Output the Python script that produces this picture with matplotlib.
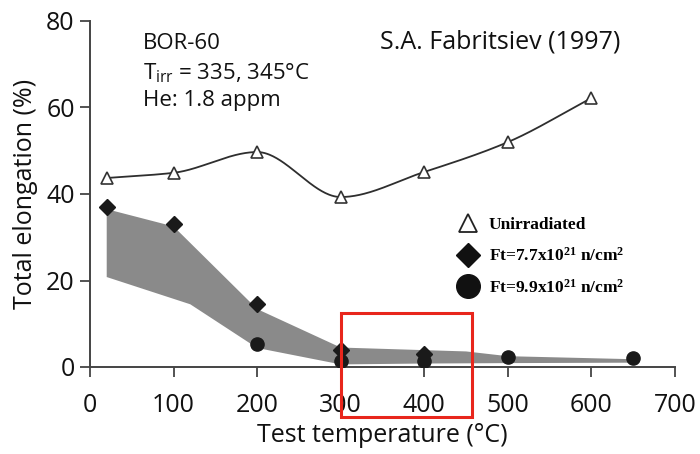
import numpy as np
import matplotlib
matplotlib.use("Agg")
import matplotlib.pyplot as plt
from matplotlib.lines import Line2D
from matplotlib.patches import Rectangle

# ---- data ----
unirr_x = [20, 100, 200, 300, 400, 500, 600]
unirr_y = [43.7, 44.9, 49.7, 39.3, 45.1, 52.0, 62.2]

ft77_x = [20, 100, 200, 300, 400]
ft77_y = [37.0, 33.1, 14.6, 3.9, 3.0]

ft99_x = [200, 300, 400, 500, 650]
ft99_y = [5.3, 1.4, 1.4, 2.3, 2.1]

band_upper_x = [20, 100, 200, 300, 400, 450, 500, 650]
band_upper_y = [36.5, 32.5, 13.4, 4.5, 3.9, 3.6, 2.5, 1.8]
band_lower_x = [20, 120, 200, 300, 400, 500, 650]
band_lower_y = [20.8, 14.5, 4.4, 0.6, 0.8, 0.9, 1.0]

xticks = [0, 100, 200, 300, 400, 500, 600, 700]
yticks = [0, 20, 40, 60, 80]

legend_labels = ["Unirradiated",
                 r"Ft=7.7x10$^{21}$ n/cm$^{2}$",
                 r"Ft=9.9x10$^{21}$ n/cm$^{2}$"]


def pchip(x, y, n=400):
    x = np.asarray(x, float); y = np.asarray(y, float)
    h = np.diff(x); dl = np.diff(y) / h
    k = len(x); d = np.zeros(k)
    for i in range(1, k - 1):
        if dl[i - 1] * dl[i] > 0:
            w1 = 2 * h[i] + h[i - 1]; w2 = h[i] + 2 * h[i - 1]
            d[i] = (w1 + w2) / (w1 / dl[i - 1] + w2 / dl[i])
    d[0] = dl[0]; d[-1] = dl[-1]
    xs = np.linspace(x[0], x[-1], n); ys = np.empty_like(xs)
    for j, xv in enumerate(xs):
        i = min(np.searchsorted(x, xv, side="right") - 1, k - 2)
        t = (xv - x[i]) / h[i]
        h00 = 2 * t**3 - 3 * t**2 + 1; h10 = t**3 - 2 * t**2 + t
        h01 = -2 * t**3 + 3 * t**2; h11 = t**3 - t**2
        ys[j] = h00 * y[i] + h10 * h[i] * d[i] + h01 * y[i + 1] + h11 * h[i] * d[i + 1]
    return xs, ys


plt.rcParams['font.family'] = ['Open Sans', 'DejaVu Sans']
plt.rcParams['mathtext.fontset'] = 'custom'
plt.rcParams['mathtext.rm'] = 'Liberation Serif:bold'
plt.rcParams['mathtext.it'] = 'Liberation Serif:bold'
plt.rcParams['mathtext.bf'] = 'Liberation Serif:bold'

fig = plt.figure(figsize=(7.0, 4.54), dpi=100)
ax = fig.add_axes([90 / 700, 1 - 367 / 454, (675 - 90) / 700, (367 - 21) / 454])
ax.set_xlim(0, 700)
ax.set_ylim(0, 80)

# gray band
poly_x = list(band_upper_x) + list(band_lower_x[::-1])
poly_y = list(band_upper_y) + list(band_lower_y[::-1])
ax.fill(poly_x, poly_y, color='#8a8a8a', lw=0, zorder=1)

# unirradiated smooth curve
sx, sy = pchip(unirr_x, unirr_y)
ax.plot(sx, sy, color='#2e2e2e', lw=1.3, zorder=2)
ax.plot(unirr_x, unirr_y, ls='none', marker='^', ms=8, mfc='white',
        mec='#333333', mew=1.2, zorder=3)
ax.plot(ft77_x, ft77_y, ls='none', marker='D', ms=8, color='#1a1a1a', zorder=4)
ax.plot(ft99_x, ft99_y, ls='none', marker='o', ms=9.5, color='#1a1a1a', zorder=4)

for s in ['top', 'right']:
    ax.spines[s].set_visible(False)
for s in ['left', 'bottom']:
    ax.spines[s].set_color('#444444')
    ax.spines[s].set_linewidth(1.4)

ax.set_xticks(xticks)
ax.set_yticks(yticks)
ax.tick_params(axis='x', direction='out', length=7, width=1.3, color='#444444',
               pad=12, labelsize=18, labelcolor='#111111')
ax.tick_params(axis='y', direction='out', length=7, width=1.3, color='#444444',
               pad=4, labelsize=18, labelcolor='#111111')
ax.set_xlabel('Test temperature (°C)', fontsize=18, color='#111111', labelpad=3)
ax.set_ylabel('Total elongation (%)', fontsize=18, color='#111111', labelpad=6)

# annotations
ax.text(0.09, 0.965, 'BOR-60', transform=ax.transAxes, fontsize=16,
        va='top', ha='left', color='#111111')
ax.text(0.09, 0.885, r'T$_{\mathregular{irr}}$ = 335, 345°C', transform=ax.transAxes,
        fontsize=16, va='top', ha='left', color='#111111')
ax.text(0.09, 0.80, 'He: 1.8 appm', transform=ax.transAxes, fontsize=16,
        va='top', ha='left', color='#111111')
ax.text(0.495, 0.975, 'S.A. Fabritsiev (1997)', transform=ax.transAxes,
        fontsize=18, va='top', ha='left', color='#111111')

# legend
handles = [
    Line2D([], [], ls='none', marker='^', ms=13, mfc='white', mec='#222222', mew=1.3),
    Line2D([], [], ls='none', marker='D', ms=12, color='#111111'),
    Line2D([], [], ls='none', marker='o', ms=17, color='#111111'),
]
leg = ax.legend(handles, legend_labels, loc='upper left',
                bbox_to_anchor=(449 / 700, 1 - 208 / 454), bbox_transform=fig.transFigure,
                frameon=False, borderpad=0, handlelength=1.2, handletextpad=0.6,
                labelspacing=0.8, prop={'family': 'Liberation Serif', 'weight': 'bold', 'size': 12.5})

# red highlight rectangle
rect = Rectangle((300, -11.6), 157, 24.1, fill=False, ec='#e8261c', lw=2.2,
                 clip_on=False, zorder=10)
ax.add_patch(rect)

fig.savefig('out.png', dpi=100)
